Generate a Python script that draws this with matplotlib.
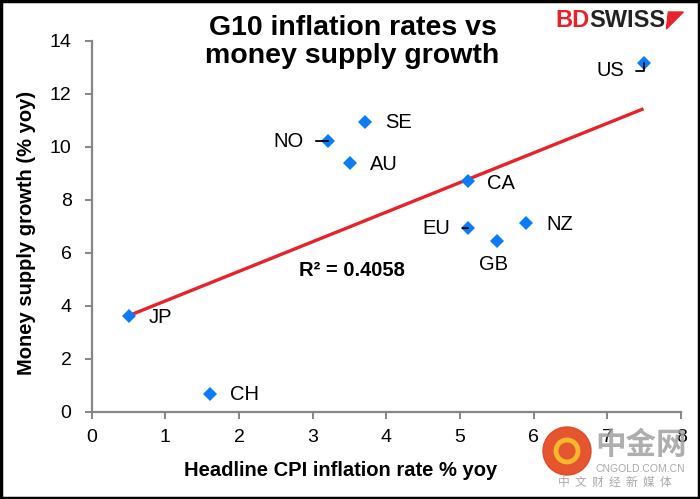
import numpy as np
import matplotlib
matplotlib.use("Agg")
import matplotlib.pyplot as plt
from matplotlib.patches import Rectangle, Ellipse, Polygon

plt.rcParams['font.family'] = ['Liberation Sans', 'DejaVu Sans']

countries = ["US", "SE", "NO", "AU", "CA", "EU", "NZ", "GB", "JP", "CH"]
cpi = [7.49, 3.71, 3.21, 3.51, 5.11, 5.11, 5.89, 5.50, 0.51, 1.60]
money = [13.18, 10.95, 10.22, 9.40, 8.70, 6.93, 7.11, 6.43, 3.61, 0.67]
x_ticks = [0, 1, 2, 3, 4, 5, 6, 7, 8]
y_ticks = [0, 2, 4, 6, 8, 10, 12, 14]
r2_text = "R² = 0.4058"

# label placement (offsets in pixels, alignment, leader)
label_style = {
    "US": dict(off=(-33, -8), ha="center", leader="elbow"),
    "SE": dict(off=(20, -1), ha="left", leader=None),
    "NO": dict(off=(-40, 0), ha="center", leader="line"),
    "AU": dict(off=(20, -2), ha="left", leader=None),
    "CA": dict(off=(19, -2), ha="left", leader=None),
    "EU": dict(off=(-32, 0), ha="center", leader="line"),
    "NZ": dict(off=(21, -1), ha="left", leader=None),
    "GB": dict(off=(-3, -23), ha="center", leader=None),
    "JP": dict(off=(19, -1), ha="left", leader=None),
    "CH": dict(off=(20, -1), ha="left", leader=None),
}

W, H = 700, 499
fig = plt.figure(figsize=(W / 100, H / 100), dpi=100)
ax = fig.add_axes([0.131, 0.175, 0.842, 0.743])

grey = "#868686"
ax.set_xlim(x_ticks[0], x_ticks[-1])
ax.set_ylim(y_ticks[0], y_ticks[-1])
ax.set_xticks(x_ticks)
ax.set_yticks(y_ticks)
for s in ["top", "right"]:
    ax.spines[s].set_visible(False)
for s in ["left", "bottom"]:
    ax.spines[s].set_color(grey)
    ax.spines[s].set_linewidth(1.6)
ax.tick_params(axis="both", direction="out", length=5, width=1.4, color=grey,
               labelsize=14, labelcolor="black")
ax.tick_params(axis="y", pad=9.5)
ax.tick_params(axis="x", pad=7.5)

# trend line
coef = np.polyfit(cpi, money, 1)
xs = np.array([min(cpi), max(cpi)])
ax.plot(xs, np.polyval(coef, xs), color="#E8222B", lw=2.4, zorder=2, solid_capstyle="butt")

ax.plot(cpi, money, linestyle="none", marker="D", markersize=7.3,
        color="#0C7CF6", markeredgewidth=0, zorder=3, clip_on=False)

for c, x, y in zip(countries, cpi, money):
    st = label_style[c]
    kw = dict(textcoords="offset pixels", xytext=st["off"], ha=st["ha"], va="center",
              fontsize=14.5, color="black", zorder=4)
    if st["leader"] == "line":
        kw["arrowprops"] = dict(arrowstyle="-", color="black", lw=1.3,
                                shrinkA=7, shrinkB=0, relpos=(1, 0.5))
    elif st["leader"] == "elbow":
        kw["arrowprops"] = dict(arrowstyle="-", color="black", lw=1.3,
                                shrinkA=6, shrinkB=0, relpos=(1, 0.5),
                                connectionstyle="angle,angleA=0,angleB=90,rad=0")
    ax.annotate(c, (x, y), **kw)

ax.text(0.442, 0.382, r2_text, transform=ax.transAxes, fontsize=14.5,
        fontweight="bold", ha="center", va="center")

ax.set_xlabel("Headline CPI inflation rate % yoy", fontsize=14.5, fontweight="bold")
ax.set_ylabel("Money supply growth (% yoy)", fontsize=14.5, fontweight="bold")
ax.xaxis.set_label_coords(0.4227, -0.133)
ax.yaxis.set_label_coords(-0.094, 0.482)

fig.text(0.5036, 0.930, "G10 inflation rates vs", fontsize=20.5, fontweight="bold",
         ha="center", va="baseline")
fig.text(0.5036, 0.873, "money supply growth", fontsize=20.5, fontweight="bold",
         ha="center", va="baseline")

# BDSWISS logo
t1 = fig.text(555 / W, 0.9465, "BD", fontsize=17, fontweight="bold", color="#E8222B",
              ha="left", va="baseline")
fig.canvas.draw()
bb = t1.get_window_extent()
t2 = fig.text(bb.x1 / W, 0.9465, "SWISS", fontsize=17, fontweight="bold", color="#222222",
              ha="left", va="baseline")
fig.canvas.draw()
x1 = t2.get_window_extent().x1
fig.patches.append(Polygon([[(x1 + 1) / W, 1 - 29 / H], [(x1 + 18) / W, 1 - 12 / H],
                            [(x1 + 3) / W, 1 - 12 / H]],
                           closed=True, transform=fig.transFigure, color="#E8222B"))

# watermark
fig.patches.append(Ellipse((567 / W, 1 - 451 / H), 48 / W, 48 / H, transform=fig.transFigure,
                           color="#E2461E", alpha=0.92))
fig.patches.append(Ellipse((567 / W, 1 - 451 / H), 22 / W, 22 / H, transform=fig.transFigure,
                           fill=False, edgecolor="#F5B82A", linewidth=3.5))
cjk = ['Noto Sans CJK SC', 'DejaVu Sans']
fig.text(641 / W, 1 - 445 / H, "中金网", fontsize=22, fontweight="bold", color="#A0A0A0",
         ha="center", va="center", family=cjk, alpha=0.85)
fig.text(640 / W, 1 - 469.5 / H, "CNGOLD.COM.CN", fontsize=7.5, color="#A0A0A0",
         ha="center", va="center", alpha=0.9)
fig.text(615 / W, 1 - 482 / H, "中  文  财  经  新  媒  体", fontsize=8.5, color="#A0A0A0",
         ha="center", va="center", family=cjk, alpha=0.9)

# frame
fig.patches.append(Rectangle((0.0015, 0.002), 0.997, 0.996, transform=fig.transFigure,
                             fill=False, edgecolor="black", linewidth=2.5))

fig.savefig("out.png", dpi=100)
